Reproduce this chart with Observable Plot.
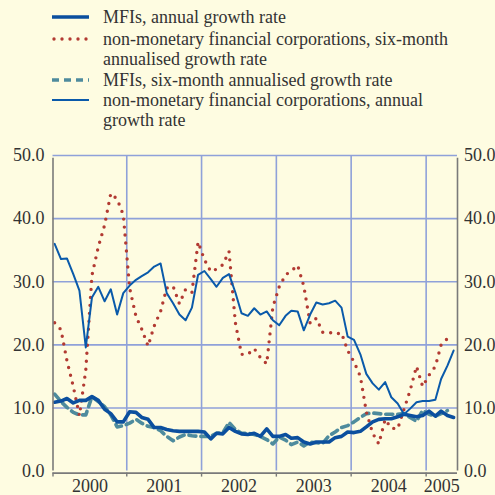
<!DOCTYPE html>
<html><head><meta charset="utf-8">
<script src="https://cdn.jsdelivr.net/npm/d3@7"></script>
<script src="https://cdn.jsdelivr.net/npm/@observablehq/plot@0.6"></script>
<style>
html,body{margin:0;padding:0;background:#FEFCE1;}
body{width:495px;height:495px;overflow:hidden;font-family:"Liberation Serif","Times New Roman",serif;color:#333;}
#legend{position:relative;height:140px;width:495px;}
.item{position:absolute;left:0;width:495px;}
.item svg{position:absolute;left:52px;top:5px;overflow:visible;}
.item .lab{position:absolute;left:103px;top:0;font-size:18px;line-height:20px;white-space:nowrap;color:#333;}
#chart svg{display:block;}
</style></head><body>
<div id="legend"></div>
<div id="chart"></div>
<script>
// Monthly data, Jan 2000 onwards (annual rates to May 2005, six-month rates to Apr 2005)
const mfiAnnual = [10.9,11.1,11.5,10.8,11.2,11.2,11.8,11.2,9.8,9.1,7.8,7.8,
  9.4,9.3,8.5,8.2,6.9,6.9,6.6,6.4,6.3,6.3,6.3,6.3,
  6.2,5.1,6.0,5.9,6.9,6.3,5.9,5.8,6.0,5.5,6.7,5.5,
  5.5,5.8,5.2,5.3,4.6,4.3,4.6,4.6,4.6,5.3,5.5,6.2,
  6.1,6.3,7.0,7.8,8.2,8.3,8.3,8.6,9.0,8.8,8.6,8.8,
  9.5,8.7,9.5,8.8,8.5];
const nmfcSixMonth = [23.5,22.4,17.5,13.4,8.8,16.0,31.0,35.5,39.0,44.0,43.1,40.6,
  29.0,24.5,22.5,19.8,23.0,25.3,29.0,29.3,26.5,28.8,28.3,36.3,
  33.5,31.6,32.0,32.7,34.8,23.5,18.5,18.5,19.4,18.0,17.0,26.0,
  29.2,31.1,31.7,32.6,29.3,23.4,24.2,22.0,22.0,21.7,21.9,19.1,
  17.3,15.0,9.4,6.0,4.3,8.2,6.8,6.7,9.8,12.8,16.6,13.4,
  15.2,16.6,20.0,21.0];
const mfiSixMonth = [12.2,11.0,10.1,9.3,8.9,8.9,11.8,11.0,10.2,8.9,7.0,7.2,
  7.6,8.2,7.6,7.1,6.9,6.4,5.5,4.8,5.4,5.8,5.6,5.5,
  5.5,5.5,6.0,6.1,7.7,6.6,6.0,6.0,5.8,5.5,5.0,4.3,
  5.4,4.9,4.2,4.6,4.0,4.6,4.5,4.4,5.6,6.2,6.9,7.2,
  7.8,8.5,9.1,9.2,9.1,9.0,9.0,9.0,9.1,8.5,7.9,9.6,
  9.0,8.7,9.1,9.6];
const nmfcAnnual = [36.0,33.6,33.7,31.2,28.6,19.6,27.5,29.2,26.9,28.8,24.8,28.2,
  29.4,30.3,30.9,31.5,32.4,32.9,28.2,26.6,24.8,23.9,25.9,31.1,
  31.7,30.4,29.2,30.6,31.2,28.3,25.0,24.6,25.8,24.8,25.3,23.9,
  23.1,24.6,25.4,25.3,22.3,24.8,26.7,26.4,26.6,27.0,25.9,21.3,
  20.8,18.5,15.4,13.9,12.9,14.1,11.7,10.7,9.0,9.9,10.9,11.1,
  11.1,11.3,14.6,16.7,19.1];
const yTicks = [0, 10, 20, 30, 40, 50];
const yearLabels = ["2000", "2001", "2002", "2003", "2004", "2005"];
const seriesLabels = [
  ["MFIs, annual growth rate"],
  ["non-monetary financial corporations, six-month", "annualised growth rate"],
  ["MFIs, six-month annualised growth rate"],
  ["non-monetary financial corporations, annual", "growth rate"]
];

const C = {
  thick: "#0B4F9E", thin: "#0A5AAA", dot: "#B23A32", dash: "#4E8B9D",
  grid: "#8FA1D9", axis: "#7A7A7A", text: "#333"
};
const styles = [
  {stroke: C.thick, strokeWidth: 3.6},
  {stroke: C.dot, strokeWidth: 3.4, strokeDasharray: "0 8", strokeLinecap: "round"},
  {stroke: C.dash, strokeWidth: 3.6, strokeDasharray: "7 5"},
  {stroke: C.thin, strokeWidth: 2}
];

// Legend
const legend = d3.select("#legend");
const tops = [7, 29, 70, 90];
seriesLabels.forEach((lines, k) => {
  const it = legend.append("div").attr("class", "item").style("top", tops[k] + "px");
  const s = it.append("svg").attr("width", 38).attr("height", 10);
  const st = styles[k];
  s.append("line").attr("x1", k === 1 ? 2 : 0).attr("x2", 37).attr("y1", 5).attr("y2", 5)
    .attr("stroke", st.stroke).attr("stroke-width", st.strokeWidth)
    .attr("stroke-dasharray", st.strokeDasharray || null)
    .attr("stroke-linecap", st.strokeLinecap || null);
  it.append("div").attr("class", "lab").html(lines.join("<br>"));
});

// Chart
const monthDate = i => new Date(Date.UTC(2000, i, 15));
const rows = arr => arr.map((v, i) => ({date: monthDate(i), value: v}));
const xDomain = [new Date(Date.UTC(2000, 0, 7)), new Date(Date.UTC(2005, 5, 3))];
const years = yearLabels.map(Number);
const yearStarts = years.slice(1).map(y => new Date(Date.UTC(y, 0, 1)));
const tickDates = [xDomain[0], ...yearStarts];
const labelRows = years.map((y, k) => {
  const a = Math.max(Date.UTC(y, 0, 1), +xDomain[0]);
  const b = Math.min(Date.UTC(y + 1, 0, 1), +xDomain[1]);
  return {date: new Date((a + b) / 2), text: yearLabels[k]};
});

const fontFamily = "'Liberation Serif','Times New Roman',serif";

const chart = Plot.plot({
  width: 495,
  height: 355,
  marginLeft: 52.5,
  marginRight: 38,
  marginTop: 15,
  marginBottom: 24.4,
  style: {background: "transparent", fontFamily, fontSize: "18px", color: C.text, overflow: "visible"},
  x: {type: "utc", domain: xDomain, axis: null},
  y: {domain: [0, 50], axis: null},
  marks: [
    Plot.ruleY(yTicks.filter(d => d > 0), {stroke: C.grid, strokeWidth: 1.6}),
    Plot.ruleX(yearStarts, {y1: 0, y2: 50, stroke: C.grid, strokeWidth: 1.6}),
    Plot.line(rows(mfiSixMonth), {x: "date", y: "value", ...styles[2]}),
    Plot.line(rows(nmfcSixMonth), {x: "date", y: "value", ...styles[1]}),
    Plot.line(rows(mfiAnnual), {x: "date", y: "value", ...styles[0], strokeLinejoin: "round"}),
    Plot.line(rows(nmfcAnnual), {x: "date", y: "value", ...styles[3]}),
    Plot.ruleX(xDomain, {y1: 0, y2: 50, insetBottom: -2.8, stroke: C.axis, strokeWidth: 1.6}),
    Plot.ruleY([0], {dy: 2, stroke: C.axis, strokeWidth: 1.6}),
    Plot.axisX(tickDates, {tickSize: 4, dy: 2, tickFormat: () => "", label: null, stroke: C.axis, strokeWidth: 1.4}),
    Plot.text(labelRows, {x: "date", y: 0, dy: 15.5, text: "text", fill: C.text, fontSize: 18}),
    Plot.axisY(yTicks, {anchor: "left", tickSize: 0, tickPadding: 8.5, tickFormat: d => d.toFixed(1), label: null, fill: C.text, fontSize: 18}),
    Plot.axisY(yTicks, {anchor: "right", tickSize: 0, tickPadding: 6.5, tickFormat: d => d.toFixed(1), label: null, fill: C.text, fontSize: 18})
  ]
});
document.getElementById("chart").appendChild(chart);
</script></body></html>
